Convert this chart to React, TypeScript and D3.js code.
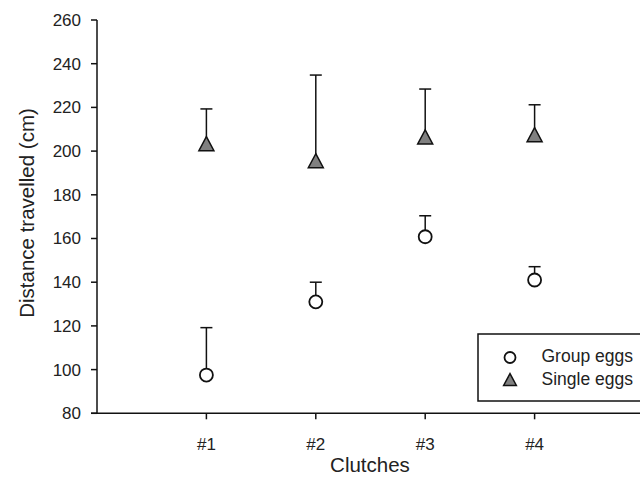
import React from "react";
import * as d3 from "d3";

const categories = ["#1", "#2", "#3", "#4"];
const groupMean = [97.5, 131, 160.8, 141];
const groupUpper = [119.2, 140, 170.4, 147.1];
const singleMean = [203.4, 195.6, 206.5, 207.5];
const singleUpper = [219.3, 234.8, 228.4, 221.2];
const yTicks = [80, 100, 120, 140, 160, 180, 200, 220, 240, 260];
const legendLabels = ["Group eggs", "Single eggs"];

const W = 640;
const H = 485;
const FONT = "'Liberation Sans', Arial, sans-serif";
const TXT = "#222";

export default function App() {
  const x = d3.scaleLinear().domain([0, 5]).range([97, 644]);
  const y = d3.scaleLinear().domain([80, 260]).range([413.3, 20]);
  const tri = (cx: number, cy: number, s = 1) => {
    const w = 7.5 * s, h = 7 * s;
    return `M${cx},${cy - h}L${cx + w},${cy + h}L${cx - w},${cy + h}Z`;
  };
  const cap = 6;
  return (
    <svg width={W} height={H} style={{ position: "absolute", left: 0, top: 0, background: "#fff" }}>
      {/* axes */}
      <line x1={97} x2={97} y1={y(260)} y2={y(80)} stroke="#111" strokeWidth={1.5} />
      <line x1={91} x2={W} y1={y(80)} y2={y(80)} stroke="#111" strokeWidth={1.5} />
      {yTicks.map((t) => (
        <g key={t}>
          <line x1={91} x2={97} y1={y(t)} y2={y(t)} stroke="#111" strokeWidth={1.5} />
          <text x={81} y={y(t)} dy="0.35em" textAnchor="end" fontFamily={FONT} fontSize={17} fill={TXT}>
            {t}
          </text>
        </g>
      ))}
      {categories.map((c, i) => (
        <g key={c}>
          <line x1={x(i + 1)} x2={x(i + 1)} y1={y(80)} y2={y(80) + 6} stroke="#111" strokeWidth={1.5} />
          <text x={x(i + 1)} y={444} dy="0.35em" textAnchor="middle" fontFamily={FONT} fontSize={17} fill={TXT}>
            {c}
          </text>
        </g>
      ))}
      <text
        transform={`translate(34,213) rotate(-90)`}
        textAnchor="middle"
        fontFamily={FONT}
        fontSize={20.5}
        fill={TXT}
      >
        Distance travelled (cm)
      </text>
      <text x={370} y={472} textAnchor="middle" fontFamily={FONT} fontSize={20.5} fill={TXT}>
        Clutches
      </text>
      {/* error bars */}
      {categories.map((c, i) => (
        <g key={"e" + c} stroke="#111" strokeWidth={1.5}>
          <line x1={x(i + 1)} x2={x(i + 1)} y1={y(groupMean[i])} y2={y(groupUpper[i])} />
          <line x1={x(i + 1) - cap} x2={x(i + 1) + cap} y1={y(groupUpper[i])} y2={y(groupUpper[i])} />
          <line x1={x(i + 1)} x2={x(i + 1)} y1={y(singleMean[i])} y2={y(singleUpper[i])} />
          <line x1={x(i + 1) - cap} x2={x(i + 1) + cap} y1={y(singleUpper[i])} y2={y(singleUpper[i])} />
        </g>
      ))}
      {/* markers */}
      {categories.map((c, i) => (
        <g key={"m" + c}>
          <circle cx={x(i + 1)} cy={y(groupMean[i])} r={6.5} fill="#fff" stroke="#111" strokeWidth={1.8} />
          <path d={tri(x(i + 1), y(singleMean[i]))} fill="#808080" stroke="#111" strokeWidth={1.5} />
        </g>
      ))}
      {/* legend */}
      <rect x={478} y={334} width={180} height={67} fill="#fff" stroke="#111" strokeWidth={1.5} />
      <circle cx={510} cy={357.5} r={5.5} fill="#fff" stroke="#111" strokeWidth={1.8} />
      <path d={tri(510, 379.5, 0.85)} fill="#808080" stroke="#111" strokeWidth={1.5} />
      {legendLabels.map((l, i) => (
        <text key={l} x={541.5} y={356 + i * 22.5} dy="0.35em" fontFamily={FONT} fontSize={17.5} fill={TXT}>
          {l}
        </text>
      ))}
    </svg>
  );
}
